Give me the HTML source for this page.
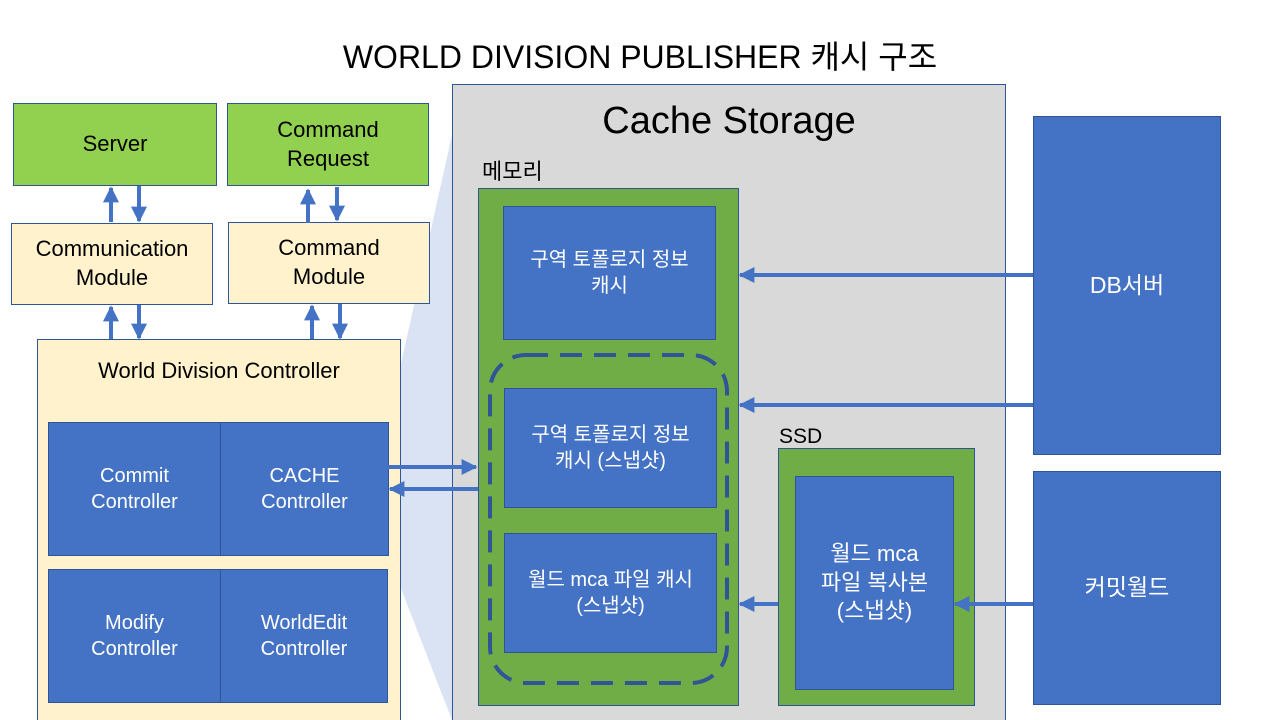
<!DOCTYPE html>
<html style="overflow:hidden;width:1280px;height:720px"><head><meta charset="utf-8"><style>
body{margin:0;width:1280px;height:720px;position:relative;overflow:hidden;background:#fff;font-family:"Liberation Sans","Noto Sans CJK KR",sans-serif}
.b{position:absolute;box-sizing:border-box;border:1px solid #2f5597;display:flex;align-items:center;justify-content:center;text-align:center;line-height:1.3}
.g{background:#92d050;color:#000;font-size:22px}
.y{background:#fff2cc;color:#000;font-size:22px}
.bl{background:#4472c4;color:#fff;font-size:20px}
.t{position:absolute;color:#000}
</style></head><body>
<div class="t" style="left:0;width:1280px;top:32px;text-align:center;font-size:32px">WORLD DIVISION PUBLISHER 캐시 구조</div>
<div class="b" style="left:452px;top:84px;width:554px;height:650px;background:#d9d9d9;border-color:#2f5597"></div>
<svg style="position:absolute;left:0;top:0" width="1280" height="720">
<polygon points="452,135 388,422 388,555 452,720" fill="#dae3f3"/>
</svg>
<div class="b g" style="left:13px;top:103px;width:204px;height:83px">Server</div>
<div class="b g" style="left:227px;top:103px;width:202px;height:83px">Command<br>Request</div>
<div class="b y" style="left:11px;top:223px;width:202px;height:82px">Communication<br>Module</div>
<div class="b y" style="left:228px;top:222px;width:202px;height:82px">Command<br>Module</div>
<div class="b y" style="left:37px;top:339px;width:364px;height:400px;align-items:flex-start;padding-top:17px">World Division Controller</div>
<div class="b bl" style="left:48px;top:422px;width:173px;height:134px">Commit<br>Controller</div>
<div class="b bl" style="left:220px;top:422px;width:169px;height:134px">CACHE<br>Controller</div>
<div class="b bl" style="left:48px;top:569px;width:173px;height:134px">Modify<br>Controller</div>
<div class="b bl" style="left:220px;top:569px;width:168px;height:134px">WorldEdit<br>Controller</div>
<div class="t" style="left:452px;width:554px;top:100px;text-align:center;font-size:38px">Cache Storage</div>
<div class="t" style="left:482px;top:154px;font-size:22px">메모리</div>
<div class="b" style="left:478px;top:188px;width:261px;height:518px;background:#70ad47"></div>
<div class="b bl" style="left:503px;top:206px;width:213px;height:134px">구역 토폴로지 정보<br>캐시</div>
<div class="b bl" style="left:504px;top:388px;width:213px;height:120px">구역 토폴로지 정보<br>캐시 (스냅샷)</div>
<div class="b bl" style="left:504px;top:533px;width:213px;height:120px">월드 mca 파일 캐시<br>(스냅샷)</div>
<div class="t" style="left:779px;top:425px;font-size:21px">SSD</div>
<div class="b" style="left:778px;top:448px;width:197px;height:258px;background:#70ad47"></div>
<div class="b bl" style="left:795px;top:476px;width:159px;height:214px;font-size:22px">월드 mca<br>파일 복사본<br>(스냅샷)</div>
<div class="b bl" style="left:1033px;top:116px;width:188px;height:339px;font-size:23px">DB서버</div>
<div class="b bl" style="left:1033px;top:471px;width:188px;height:234px;font-size:23px">커밋월드</div>
<svg style="position:absolute;left:0;top:0" width="1280" height="720">
<defs><marker id="a" viewBox="0 0 10 10" refX="9" refY="5" markerWidth="4" markerHeight="4" orient="auto"><path d="M0,0L10,5L0,10z" fill="#4472c4"/></marker></defs>
<rect x="490" y="355" width="237" height="328" rx="36" fill="none" stroke="#2f5597" stroke-width="4" stroke-dasharray="22,12"/>
<g stroke="#4472c4" stroke-width="4" marker-end="url(#a)">
<line x1="111" y1="222" x2="111" y2="188"/><line x1="139" y1="186" x2="139" y2="221"/>
<line x1="308" y1="223" x2="308" y2="190"/><line x1="337" y1="187" x2="337" y2="220"/>
<line x1="111" y1="339" x2="111" y2="307"/><line x1="139" y1="305" x2="139" y2="338"/>
<line x1="312" y1="339" x2="312" y2="306"/><line x1="340" y1="304" x2="340" y2="338"/>
<line x1="388" y1="467" x2="476" y2="467"/><line x1="478" y1="489" x2="390" y2="489"/>
<line x1="1033" y1="275" x2="740" y2="275"/><line x1="1033" y1="405" x2="740" y2="405"/>
<line x1="778" y1="604" x2="740" y2="604"/><line x1="1033" y1="604" x2="955" y2="604"/>
</g>
</svg>
</body></html>
